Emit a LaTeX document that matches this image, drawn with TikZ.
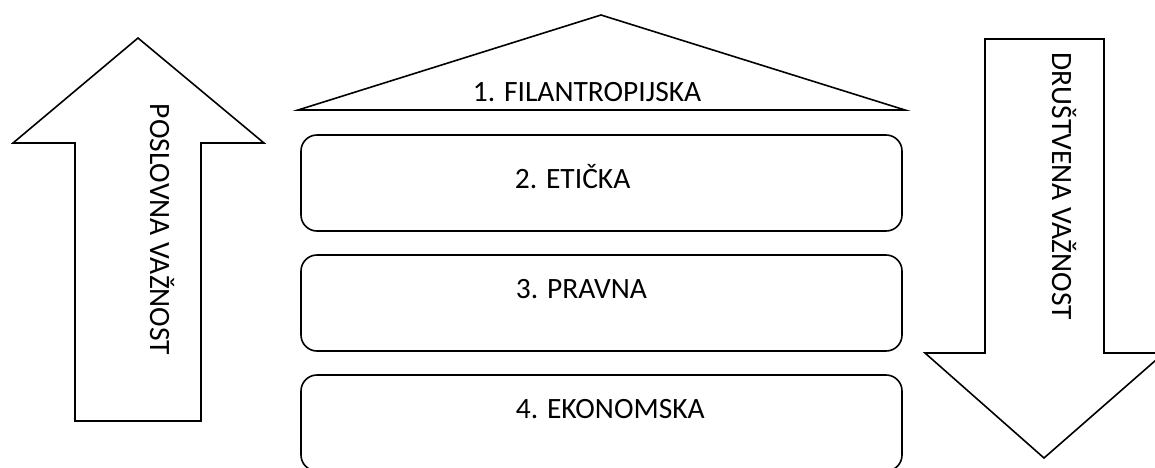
\documentclass[tikz,border=0pt]{standalone}
\usepackage{fontspec}
\setmainfont{Carlito}
\usepackage{tikz}

\begin{document}
\begin{tikzpicture}[x=1pt,y=-1pt,line width=1.6pt,
  box/.style={draw, rounded corners=16pt, minimum width=601pt, minimum height=96pt, inner sep=0pt},
  lbl/.style={inner sep=0pt, font=\fontsize{29.5}{35}\selectfont}]
\useasboundingbox (0,0) rectangle (1155,467);

% Arrows
\draw (138,38) -- (264,143) -- (201,143) -- (201,421) -- (75,421) -- (75,143) -- (13,143) -- cycle;
\draw (985,39) -- (1104,39) -- (1104,353) -- (1164,353) -- (1044,458) -- (925,353) -- (985,353) -- cycle;

%Roof
\draw (298,110) -- (601,15) -- (905,110) -- cycle;

%Boxes
\node[box] (b2) at (601.5,183) {};
\node[box] (b3) at (601.5,303) {};
\node[box] (b4) at (601.5,423) {};

%Texts
\node[lbl, anchor=base west] (t1) at (472,101) {1. FILANTROPIJSKA};
\node[lbl, anchor=base west] (t2) at (514,188) {2. ETIČKA};
\node[lbl, anchor=base west] (t3) at (515,298) {3. PRAVNA};
\node[lbl, anchor=base west] (t4) at (515,418) {4. EKONOMSKA};
\node[lbl, rotate=-90, anchor=base west] (tl) at (150,103) {POSLOVNA VAŽNOST};
\node[lbl, rotate=-90, anchor=base west] (tr) at (1052,52) {DRUŠTVENA VAŽNOST};
\end{tikzpicture}
\end{document}
